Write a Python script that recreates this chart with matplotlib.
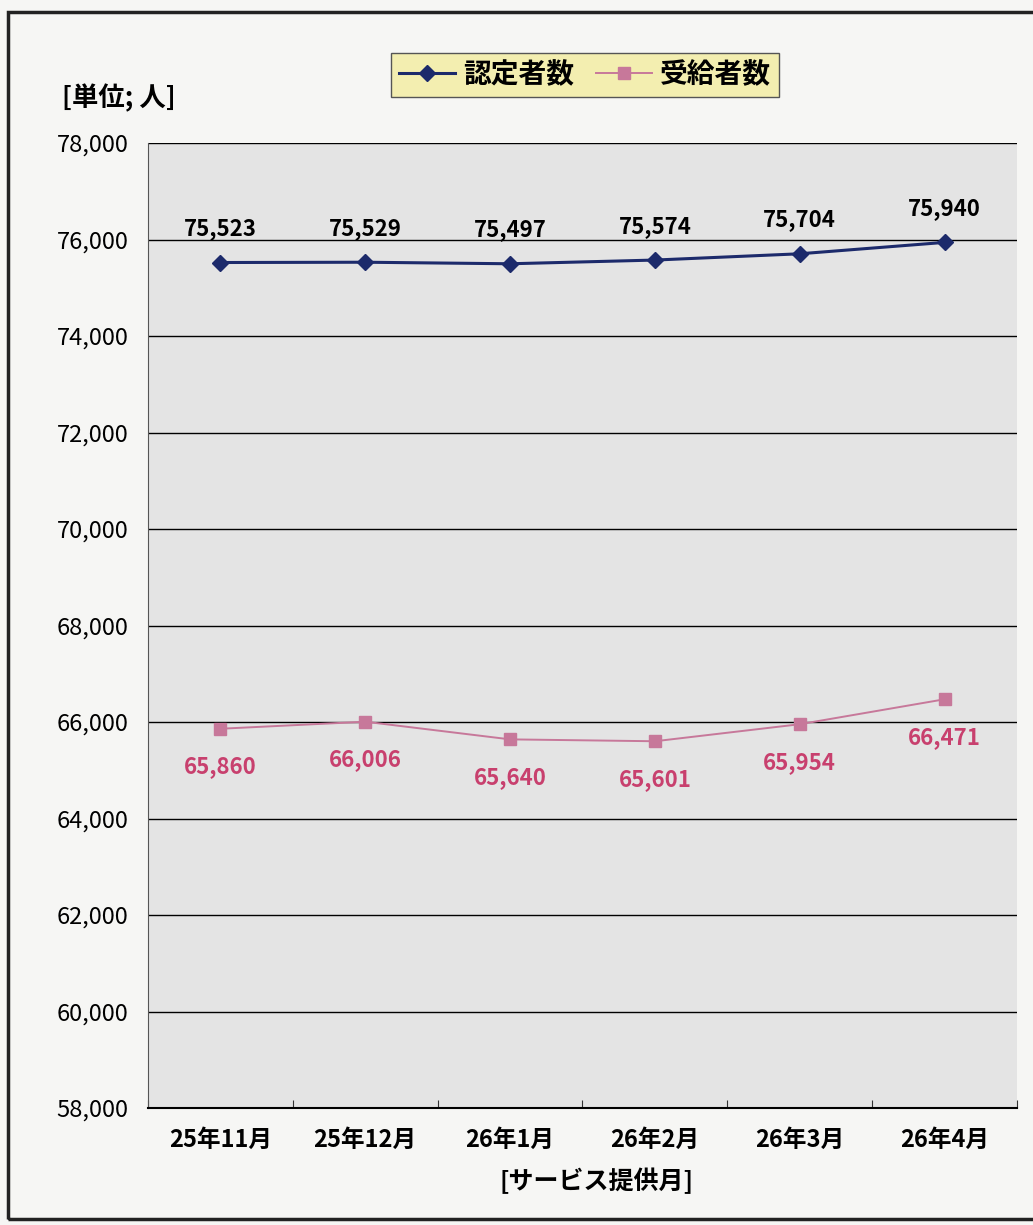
import matplotlib
matplotlib.use("Agg")
import matplotlib.pyplot as plt
from matplotlib.patches import Rectangle
from matplotlib.ticker import FuncFormatter, MultipleLocator

plt.rcParams['font.family'] = ['Noto Sans CJK JP', 'DejaVu Sans']

# data
months = ["25年11月", "25年12月", "26年1月", "26年2月", "26年3月", "26年4月"]
nintei = [75523, 75529, 75497, 75574, 75704, 75940]   # 認定者数
jukyu = [65860, 66006, 65640, 65601, 65954, 66471]    # 受給者数

navy = "#1c2a6b"
pink = "#c7789a"
pink_txt = "#c8406e"

fig = plt.figure(figsize=(10.33, 12.25), dpi=100, facecolor="#f6f6f4")
ax = fig.add_axes([148/1033, 1 - 1108/1225, 869/1033, 965/1225])
ax.set_facecolor("#e4e4e4")

x = list(range(len(months)))
ax.plot(x, nintei, color=navy, lw=2.2, marker="D", ms=8, mfc=navy, mec=navy,
        label="認定者数", zorder=4)
ax.plot(x, jukyu, color=pink, lw=1.4, marker="s", ms=9, mfc=pink, mec=pink,
        label="受給者数", zorder=4)

for i, v in enumerate(nintei):
    ax.annotate(f"{v:,}", (i, v), xytext=(0, 16), textcoords="offset points",
                ha="center", va="bottom", fontsize=16, fontweight="bold", color="black")
for i, v in enumerate(jukyu):
    ax.annotate(f"{v:,}", (i, v), xytext=(0, -19), textcoords="offset points",
                ha="center", va="top", fontsize=16, fontweight="bold", color=pink_txt)

ax.set_xlim(-0.5, len(months) - 0.5)
ax.set_ylim(58000, 78000)
ax.yaxis.set_major_locator(MultipleLocator(2000))
ax.yaxis.set_major_formatter(FuncFormatter(lambda v, p: f"{int(v):,}"))
ax.grid(axis="y", color="black", lw=1.0, zorder=1)
ax.set_axisbelow(True)

ax.set_xticks([i + 0.5 for i in range(-1, len(months))])
ax.set_xticklabels([])
ax.set_xticks(x, minor=True)
ax.set_xticklabels(months, minor=True, fontsize=17, fontweight="bold")
ax.tick_params(axis="x", which="major", direction="in", length=6, color="#333333")
ax.tick_params(axis="x", which="minor", length=0, pad=14)
ax.tick_params(axis="y", length=0, labelsize=17, pad=14)

for s in ["top", "right"]:
    ax.spines[s].set_visible(False)
ax.spines["left"].set_color("#555555")
ax.spines["bottom"].set_color("black")
ax.spines["bottom"].set_linewidth(1.5)

fig.text(597/1033, 1 - 1181/1225, "[サービス提供月]", ha="center", va="center",
         fontsize=18, fontweight="bold")
fig.text(62/1033, 1 - 98/1225, "[単位; 人]", ha="left", va="center",
         fontsize=19, fontweight="bold")

leg = fig.legend(loc="center", bbox_to_anchor=(585/1033, 1 - 75/1225), ncol=2,
                 fontsize=20, frameon=True, fancybox=False, handlelength=2.0,
                 handletextpad=0.3, columnspacing=0.8, borderpad=0.3)
leg.get_frame().set_facecolor("#f3eeb0")
leg.get_frame().set_edgecolor("#555555")
leg.get_frame().set_alpha(1)
for t in leg.get_texts():
    t.set_fontweight("bold")

# outer chart frame
fig.patches.append(Rectangle((8/1033, 0.005), 1.2, 1 - 12/1225 - 0.005,
                             transform=fig.transFigure, fill=False,
                             edgecolor="#222222", lw=2.5))

fig.savefig("out.png", dpi=100, facecolor=fig.get_facecolor())
